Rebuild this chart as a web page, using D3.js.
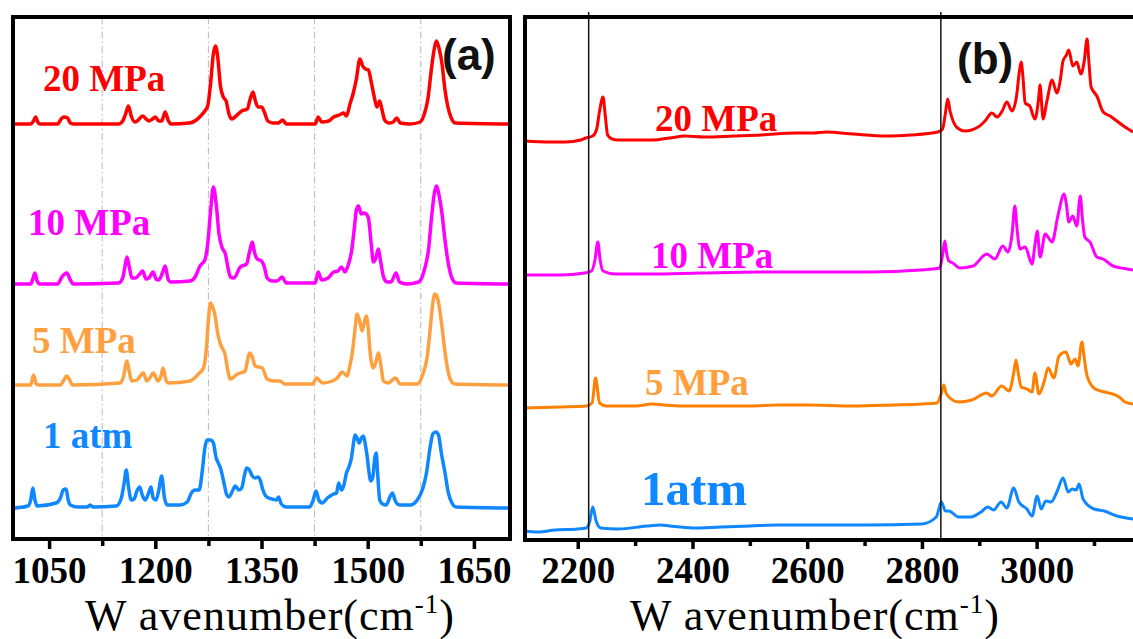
<!DOCTYPE html>
<html>
<head>
<meta charset="utf-8">
<script src="https://cdn.jsdelivr.net/npm/d3@7/dist/d3.min.js"></script>
<style>
  body { margin: 0; background: #fff; }
  svg { display: block; }
</style>
</head>
<body>
<svg id="chart" width="1133" height="639"></svg>
<script>
// series order: bottom to top
var seriesNames = ['1 atm', '5 MPa', '10 MPa', '20 MPa'];
var labelsB = ['1atm', '5 MPa', '10 MPa', '20 MPa'];

// panel (a): 1000-1700 cm-1, [wavenumber, intensity a.u.]
var offsetsA = [31, 154, 255, 415];
var a1atm = [[1000,0],[1020,2],[1024,8],[1027,20],[1030,8],[1033,2],[1060,5],[1066,10],[1070,18],[1074,19],[1077,8],[1080,3],[1090,1],[1104,1],[1108,3],[1112,1],[1145,2],[1152,10],[1156,25],[1159,38],[1162,22],[1166,8],[1170,9],[1174,17],[1178,21],[1182,12],[1186,8],[1190,14],[1194,21],[1197,10],[1201,8],[1205,18],[1209,32],[1213,10],[1217,3],[1235,3],[1245,6],[1251,15],[1256,18],[1262,18],[1266,35],[1270,60],[1273,68],[1278,68],[1282,65],[1286,50],[1289,45],[1292,40],[1297,25],[1301,13],[1304,11],[1309,17],[1313,22],[1318,18],[1322,20],[1326,33],[1329,40],[1333,38],[1337,32],[1341,30],[1345,31],[1348,28],[1352,18],[1356,12],[1360,10],[1365,9],[1371,8],[1374,11],[1378,4],[1385,1],[1418,1],[1423,8],[1427,17],[1431,8],[1436,5],[1443,10],[1447,12],[1452,14],[1456,15],[1459,25],[1463,18],[1466,22],[1470,35],[1474,42],[1477,50],[1480,65],[1482,73],[1485,70],[1488,65],[1491,70],[1494,72],[1497,62],[1499,53],[1502,35],[1504,27],[1507,30],[1510,50],[1512,55],[1514,35],[1517,8],[1521,4],[1526,3],[1532,12],[1535,15],[1539,7],[1545,3],[1560,3],[1570,8],[1578,20],[1583,35],[1588,60],[1592,74],[1596,76],[1600,73],[1604,55],[1609,36],[1614,15],[1619,5],[1625,1],[1701,0]];
var a5mpa = [[1000,0],[1024,0],[1028,10],[1032,1],[1036,0],[1066,0],[1070,4],[1075,9],[1079,5],[1083,0],[1150,2],[1155,8],[1160,24],[1163,14],[1167,4],[1174,5],[1183,12],[1188,4],[1193,8],[1197,12],[1204,4],[1208,9],[1211,17],[1215,5],[1218,2],[1249,4],[1261,11],[1268,17],[1272,35],[1275,65],[1278,82],[1282,76],[1285,67],[1288,52],[1292,41],[1299,29],[1302,16],[1306,6],[1316,11],[1327,14],[1330,24],[1333,32],[1337,28],[1341,19],[1346,18],[1351,17],[1358,6],[1368,4],[1376,4],[1383,1],[1422,1],[1428,7],[1436,2],[1450,4],[1457,7],[1464,13],[1471,9],[1475,20],[1478,31],[1482,55],[1485,71],[1489,63],[1492,54],[1495,62],[1498,69],[1501,55],[1503,36],[1508,17],[1512,24],[1515,32],[1519,18],[1522,4],[1529,2],[1539,7],[1546,1],[1570,1],[1578,11],[1584,28],[1588,54],[1592,82],[1595,91],[1599,86],[1602,74],[1606,52],[1609,34],[1616,7],[1623,1],[1701,0]];
var a10mpa = [[1000,0],[1024,0],[1027,5],[1030,11],[1033,3],[1037,0],[1062,0],[1068,7],[1075,11],[1080,4],[1084,0],[1148,1],[1154,6],[1157,17],[1160,27],[1163,18],[1167,6],[1172,6],[1178,10],[1182,13],[1187,5],[1191,6],[1197,12],[1201,5],[1205,4],[1210,11],[1214,18],[1218,5],[1222,2],[1249,3],[1257,8],[1263,18],[1270,24],[1274,40],[1278,72],[1282,97],[1286,80],[1290,50],[1294,37],[1299,30],[1303,15],[1306,7],[1311,6],[1320,17],[1329,20],[1333,32],[1337,42],[1340,32],[1344,25],[1350,23],[1354,17],[1358,6],[1365,3],[1372,3],[1379,7],[1385,1],[1426,1],[1430,12],[1435,4],[1444,6],[1452,12],[1458,13],[1463,17],[1468,12],[1472,18],[1477,32],[1481,55],[1484,74],[1487,78],[1491,70],[1494,71],[1498,70],[1501,66],[1505,40],[1508,22],[1511,25],[1515,35],[1518,24],[1522,8],[1527,2],[1533,2],[1540,11],[1545,2],[1555,0],[1572,2],[1580,14],[1586,35],[1590,65],[1594,90],[1597,98],[1601,88],[1605,70],[1609,45],[1614,20],[1619,6],[1625,1],[1701,0]];
var a20mpa = [[1000,0],[1024,0],[1028,3],[1031,7],[1034,2],[1037,0],[1062,0],[1067,5],[1071,7],[1076,6],[1080,1],[1085,0],[1148,0],[1154,3],[1158,10],[1162,18],[1166,8],[1171,2],[1176,4],[1182,8],[1187,5],[1191,3],[1196,5],[1200,7],[1205,3],[1209,3],[1214,12],[1218,4],[1222,0],[1248,1],[1258,4],[1264,8],[1270,13],[1274,18],[1278,40],[1282,70],[1285,78],[1288,68],[1292,38],[1296,27],[1300,23],[1304,10],[1308,5],[1314,8],[1322,13],[1330,15],[1334,25],[1338,32],[1341,24],[1345,17],[1350,17],[1354,12],[1359,3],[1366,1],[1374,1],[1380,4],[1385,0],[1426,0],[1430,7],[1435,2],[1445,3],[1452,7],[1460,9],[1466,11],[1470,8],[1475,20],[1480,32],[1484,45],[1489,65],[1493,58],[1497,55],[1501,54],[1505,42],[1509,28],[1513,17],[1517,23],[1520,15],[1524,4],[1530,1],[1536,2],[1541,6],[1546,1],[1560,0],[1574,2],[1580,10],[1585,25],[1590,55],[1594,75],[1597,83],[1601,75],[1605,60],[1609,35],[1613,18],[1618,6],[1624,1],[1701,0]];

// panel (b): 2100-3170 cm-1
var offsetsB = [8, 131, 264, 398];
var b1atm = [[2108,0],[2130,-1],[2160,1],[2200,2],[2215,3],[2221,10],[2226,24],[2232,10],[2240,3],[2270,2],[2320,5],[2345,6],[2360,5],[2400,3],[2450,4],[2500,5],[2550,6],[2600,6],[2700,6],[2800,7],[2825,14],[2834,29],[2841,20],[2847,20],[2864,14],[2885,14],[2903,19],[2915,24],[2925,21],[2938,29],[2948,23],[2960,43],[2969,29],[2983,22],[2992,15],[3001,35],[3008,22],[3016,30],[3025,29],[3036,40],[3046,53],[3055,39],[3062,42],[3069,41],[3074,47],[3081,32],[3100,22],[3118,20],[3140,15],[3168,12]];
var b5mpa = [[2108,0],[2170,1],[2215,2],[2225,5],[2231,30],[2238,5],[2250,2],[2300,2],[2330,4],[2350,3],[2380,2],[2450,2],[2500,2],[2550,3],[2600,3],[2680,2],[2750,3],[2800,4],[2826,5],[2834,15],[2838,23],[2842,15],[2847,11],[2864,6],[2887,8],[2913,15],[2922,12],[2939,22],[2952,17],[2960,35],[2964,48],[2968,35],[2973,21],[2983,19],[2992,16],[2997,35],[3004,14],[3013,26],[3020,40],[3030,30],[3039,52],[3051,56],[3060,44],[3067,49],[3072,42],[3079,66],[3083,50],[3088,32],[3102,19],[3119,16],[3144,11],[3154,6],[3168,4]];
var b10mpa = [[2108,0],[2169,0],[2212,2],[2224,4],[2230,15],[2235,33],[2239,15],[2244,4],[2265,1],[2326,1],[2413,2],[2517,3],[2587,3],[2709,3],[2797,5],[2831,7],[2836,20],[2840,34],[2843,22],[2847,14],[2854,12],[2866,7],[2889,9],[2913,21],[2927,16],[2941,29],[2950,23],[2957,40],[2962,69],[2966,45],[2971,26],[2980,28],[2992,11],[2997,30],[3001,44],[3006,18],[3015,41],[3027,33],[3037,59],[3048,81],[3052,70],[3056,53],[3063,59],[3070,49],[3076,79],[3080,55],[3084,38],[3093,33],[3105,18],[3116,16],[3133,9],[3158,6],[3168,5]];
var b20mpa = [[2108,0],[2150,-1],[2179,-1],[2205,1],[2214,3],[2226,5],[2233,12],[2238,30],[2244,44],[2248,25],[2252,6],[2260,2],[2270,1],[2300,1],[2331,1],[2360,3],[2387,5],[2420,4],[2472,5],[2520,6],[2580,8],[2610,8],[2634,9],[2680,7],[2739,5],[2780,6],[2828,9],[2836,12],[2841,28],[2845,42],[2849,30],[2855,19],[2862,13],[2875,10],[2898,14],[2910,20],[2922,28],[2931,24],[2940,30],[2948,39],[2957,30],[2965,45],[2970,70],[2973,79],[2976,65],[2980,38],[2988,35],[2997,22],[3003,40],[3006,56],[3009,35],[3011,22],[3018,40],[3027,61],[3035,48],[3041,60],[3046,80],[3052,86],[3056,91],[3063,75],[3070,79],[3077,67],[3083,80],[3088,102],[3091,80],[3095,54],[3105,45],[3116,29],[3128,25],[3142,19],[3154,14],[3168,9]];

var ticksA = [1050, 1200, 1350, 1500, 1650], minorA = [1125, 1275, 1425, 1575];
var ticksB = [2200, 2400, 2600, 2800, 3000], minorB = [2300, 2500, 2700, 2900, 3100];
var markLinesB = [2219, 2833];

var specA = [a1atm, a5mpa, a10mpa, a20mpa];
var specB = [b1atm, b5mpa, b10mpa, b20mpa];
var colorsA = ['#0f87ff', '#ffa040', '#ff00ff', '#ff0000'];
var colorsB = ['#0f87ff', '#ff8000', '#ff00ff', '#ff0000'];
var labelColorsB = ['#0f87ff', '#ffa040', '#ff00ff', '#ff0000'];

var svg = d3.select('#chart');
var yTop = 17, yBottom = 539;
var serif = '"Liberation Serif", "Times New Roman", serif';

var xA = d3.scaleLinear().domain([999, 1701]).range([13, 510]);
var xB = d3.scaleLinear().domain([2108, 3168]).range([525, 1133]);
var y = d3.scaleLinear().domain([0, 522]).range([yBottom, yTop]);

svg.append('defs').append('clipPath').attr('id', 'clipB')
  .append('rect').attr('x', 525).attr('y', 0).attr('width', 620).attr('height', yBottom);

// grid lines panel a
svg.append('g').selectAll('line')
    .data(minorA)
  .enter().append('line')
    .attr('x1', function (d) { return xA(d); })
    .attr('x2', function (d) { return xA(d); })
    .attr('y1', yTop).attr('y2', yBottom)
    .attr('stroke', '#b8b8b8').attr('stroke-width', 1)
    .attr('stroke-dasharray', '7,3,1.5,3');

function drawSpectra (g, x, data, offsets, colors, width) {
  data.forEach(function (s, i) {
    var line = d3.line()
      .x(function (d) { return x(d[0]); })
      .y(function (d) { return y(d[1] + offsets[i]); })
      .curve(d3.curveMonotoneX);
    g.append('path')
      .datum(s)
      .attr('d', line)
      .attr('fill', 'none')
      .attr('stroke', colors[i])
      .attr('stroke-width', width)
      .attr('stroke-linejoin', 'round');
  });
}

drawSpectra(svg.append('g'), xA, specA, offsetsA, colorsA, 3.5);
drawSpectra(svg.append('g').attr('clip-path', 'url(#clipB)'), xB, specB, offsetsB, colorsB, 3);

// marker lines panel b
svg.append('g').selectAll('line')
    .data(markLinesB)
  .enter().append('line')
    .attr('x1', function (d) { return xB(d); })
    .attr('x2', function (d) { return xB(d); })
    .attr('y1', 12).attr('y2', yBottom)
    .attr('stroke', '#111').attr('stroke-width', 1.5);

// frames
svg.append('rect')
  .attr('x', 13).attr('y', yTop).attr('width', 510 - 13).attr('height', yBottom - yTop)
  .attr('fill', 'none').attr('stroke', '#000').attr('stroke-width', 4);
svg.append('path')
  .attr('d', 'M1140,' + yTop + 'H525V' + (yBottom + 1) + 'H1140')
  .attr('fill', 'none').attr('stroke', '#000').attr('stroke-width', 4);

function drawAxis (x, majors, minors) {
  var gMaj = svg.append('g').attr('transform', 'translate(0,' + (yBottom + 1) + ')')
    .call(d3.axisBottom(x).tickValues(majors).tickSize(9).tickFormat(d3.format('d')));
  gMaj.select('.domain').remove();
  gMaj.selectAll('line').attr('stroke', '#000').attr('stroke-width', 3.5);
  gMaj.selectAll('text')
    .attr('y', 43).attr('dy', 0)
    .attr('fill', '#000')
    .style('font-family', serif).style('font-weight', 'bold').style('font-size', '37px');
  var gMin = svg.append('g').attr('transform', 'translate(0,' + (yBottom + 1) + ')')
    .call(d3.axisBottom(x).tickValues(minors).tickSize(6).tickFormat(''));
  gMin.select('.domain').remove();
  gMin.selectAll('line').attr('stroke', '#000').attr('stroke-width', 3.5);
}
drawAxis(xA, ticksA, minorA);
drawAxis(xB, ticksB, minorB);

function axisTitle (cx) {
  var t = svg.append('text')
    .attr('x', cx).attr('y', 630)
    .attr('text-anchor', 'middle')
    .style('letter-spacing', '1px')
    .style('font-family', serif).style('font-size', '44px').attr('fill', '#000');
  t.append('tspan').text('W avenumber(cm');
  t.append('tspan').attr('dy', -17).style('font-size', '27px').text('-1');
  t.append('tspan').attr('dy', 17).text(')');
}
axisTitle(270);
axisTitle(815);

// series labels
var labPosA = [[43, 448], [32, 353], [28, 235], [43, 91]];
var labPosB = [[641, 505], [645, 395], [651, 268], [655, 131]];
seriesNames.forEach(function (n, i) {
  svg.append('text')
    .attr('x', labPosA[i][0]).attr('y', labPosA[i][1])
    .attr('fill', colorsA[i])
    .style('font-family', serif).style('font-weight', 'bold').style('font-size', '37px')
    .text(n);
  svg.append('text')
    .attr('x', labPosB[i][0]).attr('y', labPosB[i][1])
    .attr('fill', labelColorsB[i])
    .style('font-family', serif).style('font-weight', 'bold')
    .style('font-size', i === 0 ? '49px' : '37px')
    .text(labelsB[i]);
});

// panel tags
[['(a)', 442, 70], ['(b)', 957, 74]].forEach(function (p) {
  svg.append('text')
    .attr('x', p[1]).attr('y', p[2])
    .style('font-family', '"Liberation Sans", Arial, sans-serif')
    .style('font-weight', 'bold').style('font-size', '44px')
    .attr('fill', '#111')
    .text(p[0]);
});
</script>
</body>
</html>
